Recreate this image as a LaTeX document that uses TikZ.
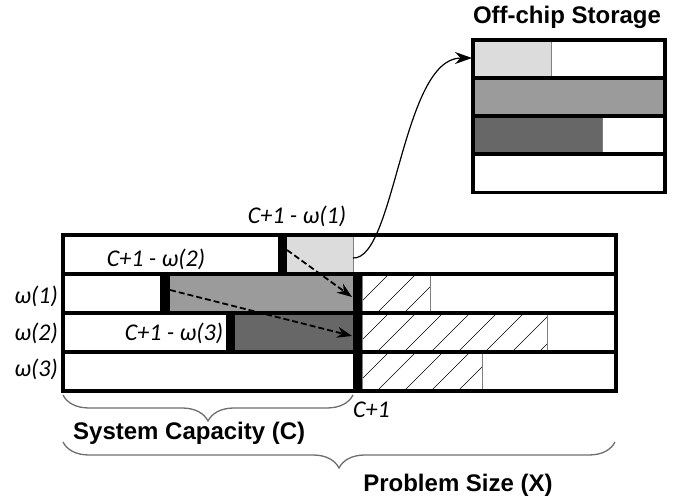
\documentclass[tikz,border=0pt]{standalone}
\usepackage{fontspec}
\setmainfont{Liberation Sans}
\newfontfamily\labfont{Carlito}
\usepackage{tikz}
\usetikzlibrary{arrows.meta,positioning,decorations.pathreplacing}
\definecolor{memlight}{HTML}{DCDCDC}
\definecolor{memmid}{HTML}{9B9B9B}
\definecolor{memdark}{HTML}{676767}
\definecolor{bracegray}{HTML}{6E6E6E}

\begin{document}
\begin{tikzpicture}[x=1pt,y=-1pt,>={Stealth[length=17pt,width=12pt]},
  rowbox/.style={draw,line width=3.5pt},
  seg/.style={draw=gray,line width=0.7pt},
  mv/.style={->,dash pattern=on 6pt off 3pt,line width=1.8pt,>={Stealth[length=15pt,width=11pt]}},
  lab/.style={font=\labfont\itshape\fontsize{24}{24}\selectfont,inner sep=0pt},
  ttl/.style={font=\bfseries\fontsize{24}{24}\selectfont,inner sep=0pt},
  brc/.style={decorate,decoration={brace,mirror,amplitude=26pt},draw=bracegray,line width=1.3pt}]
  \useasboundingbox (0,0) rectangle (681,502);
  % on-chip rows
  \fill[memlight] (287,235) rectangle (353,274); \draw[seg] (353,235) -- (353,274);
  \fill[memmid] (170,274) rectangle (353,313);
  \fill[memdark] (235,313) rectangle (353,352);
  \fill (278,235) rectangle (287,274);
  \fill (160,274) rectangle (170,313);
  \fill (226,313) rectangle (235,352);
  \foreach \y/\e in {274/430,313/547,352/482} {
    \begin{scope}
      \clip (362,\y) rectangle (\e,\y+39);
      \foreach \k in {0,...,8} \draw[line width=0.6pt] (350+27*\k,\y+39) -- (389+27*\k,\y);
    \end{scope}
    \draw[seg] (362,\y) rectangle (\e,\y+39);
    \fill (353,\y) rectangle (362,\y+39);
  }
  \foreach \y in {235,274,313,352} \draw[rowbox] (63,\y) rectangle (616,\y+39);
  % off-chip storage
  \fill[memlight] (473,40) rectangle (551,78); \draw[seg] (551,40) -- (551,78);
  \fill[memmid] (473,78) rectangle (665,116);
  \fill[memdark] (473,116) rectangle (602,154); \draw[seg] (602,116) -- (602,154);
  \foreach \y in {40,78,116,154} \draw[rowbox] (473,\y) rectangle (665,\y+38.5);
  \node[ttl] (store) at (567,17) {Off-chip Storage};
  % moves
  \coordinate (src) at (353,258); \coordinate (dst) at (472,58);
  \coordinate (w1) at (287,250); \coordinate (t1) at (352,297);
  \coordinate (w2) at (170,290); \coordinate (t2) at (352,336);
  \draw[->,line width=1.2pt] (src) .. controls (395,260) and (402,58) .. (dst);
  \draw[mv] (w1) -- (t1);
  \draw[mv] (w2) -- (t2);
  % labels
  \node[lab] (c1) at (297,216) {C+1 - ω(1)};
  \node[lab] (c2) at (156,259) {C+1 - ω(2)};
  \node[lab] (c3) at (174,333) {C+1 - ω(3)};
  \node[lab,anchor=east] (w1l) at (58,296) {ω(1)};
  \node[lab,anchor=east] (w2l) at (58,333) {ω(2)};
  \node[lab,anchor=east] (w3l) at (58,369) {ω(3)};
  \node[lab,anchor=west] (cp) at (353,410) {C+1};
  % braces
  \coordinate (capL) at (63,395); \coordinate (capR) at (353,395);
  \coordinate (xL) at (63,442); \coordinate (xR) at (615,442);
  \draw[brc] (capL) -- (capR);
  \draw[brc] (xL) -- (xR);
  \node[ttl,anchor=west] (cap) at (73,433) {System Capacity (C)};
  \node[ttl] (size) at (458,485) {Problem Size (X)};
\end{tikzpicture}
\end{document}
